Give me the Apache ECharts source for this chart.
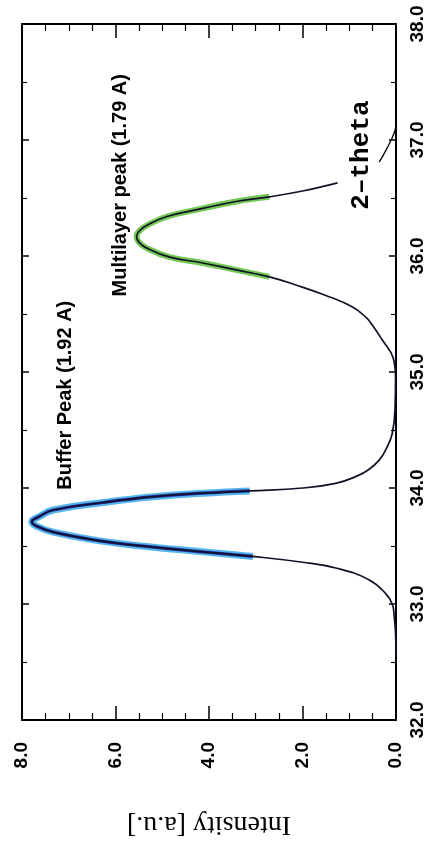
<!DOCTYPE html>
<html>
<head>
<meta charset="utf-8">
<script src="https://cdn.jsdelivr.net/npm/echarts@6/dist/echarts.min.js"></script>
<style>
html,body{margin:0;padding:0;background:#fff;}
#chart{width:427px;height:854px;}
</style>
</head>
<body>
<div id="chart"></div>
<script>
// 2-theta positions (deg) and measured intensity (a.u.)
const theta = [32.55, 32.75, 32.90, 33.00, 33.09, 33.21, 33.31, 33.36, 33.41, 33.45, 33.49, 33.54, 33.62, 33.67, 33.71, 33.75, 33.81, 33.875, 33.925, 33.955, 33.975, 34.00, 34.04, 34.10, 34.16, 34.24, 34.33, 34.47, 34.70, 34.95, 35.12, 35.28, 35.40, 35.47, 35.56, 35.66, 35.75, 35.82, 35.88, 35.94, 35.99, 36.07, 36.12, 36.17, 36.22, 36.27, 36.34, 36.41, 36.47, 36.51, 36.56, 36.63];
const intensity = [0.00, 0.01, 0.04, 0.08, 0.22, 0.58, 1.29, 2.00, 3.06, 4.13, 5.19, 6.26, 7.33, 7.68, 7.79, 7.65, 7.33, 6.26, 5.19, 4.13, 3.13, 2.00, 1.29, 0.85, 0.58, 0.36, 0.22, 0.08, 0.02, 0.01, 0.06, 0.30, 0.50, 0.64, 0.93, 1.50, 2.14, 2.71, 3.42, 4.13, 4.84, 5.34, 5.50, 5.55, 5.48, 5.30, 4.90, 4.13, 3.42, 2.71, 2.00, 1.25];
// highlighted index ranges (inclusive)
const bufferRange = [8, 20];
const multilayerRange = [37, 49];
// axis tick labels
const intensityTicks = ['0.0', '2.0', '4.0', '6.0', '8.0'];
const thetaTicks = ['32.0', '33.0', '34.0', '35.0', '36.0', '37.0', '38.0'];
// annotations: [intensity, theta, text]
const annotations = [
  [7.08, 34.80, 'Buffer Peak (1.92 A)'],
  [5.90, 36.61, 'Multilayer peak (1.79 A)']
];
const thetaLabel = [0.74, 36.87, '2\u2013theta'];
const arrowI = [0.36, 0.19, 0.04, 0.00];
const arrowT = [36.81, 36.93, 37.06, 37.13];

const pts = theta.map((t, i) => [intensity[i], t]);
const seg = r => pts.slice(r[0], r[1] + 1);

const tickFont = {fontFamily: 'Liberation Sans', fontWeight: 'bold', fontSize: 19, color: '#000'};
const axisLine = {show: true, onZero: false, lineStyle: {color: '#000', width: 2}};

function xAx(pos, labels) {
  return {
    type: 'value', position: pos, min: 0, max: 8, interval: 2, inverse: true,
    axisLine: axisLine,
    axisTick: {show: true, inside: true, length: 14, lineStyle: {color: '#000', width: 1.5}},
    minorTick: {show: true, splitNumber: 4, length: 7, lineStyle: {color: '#000', width: 1.2}},
    splitLine: {show: false},
    axisLabel: labels ? Object.assign({show: true, rotate: 90, margin: 22,
      formatter: v => intensityTicks[Math.round(v / 2)]}, tickFont) : {show: false},
    name: labels ? 'Intensity [a.u.]' : '',
    nameLocation: 'middle', nameGap: 90, nameRotate: 180,
    nameTextStyle: {fontFamily: 'Liberation Serif', fontSize: 28, color: '#000'}
  };
}
function yAx(pos, labels) {
  return {
    type: 'value', position: pos, min: 32, max: 38, interval: 1,
    axisLine: axisLine,
    axisTick: {show: true, inside: true, length: 7, lineStyle: {color: '#000', width: 1.5}},
    minorTick: {show: true, splitNumber: 2, length: 5, lineStyle: {color: '#000', width: 1.2}},
    splitLine: {show: false},
    axisLabel: labels ? Object.assign({show: true, rotate: 90, margin: 12,
      formatter: v => thetaTicks[Math.round(v - 32)]}, tickFont) : {show: false}
  };
}

const chart = echarts.init(document.getElementById('chart'), null, {renderer: 'canvas'});
chart.setOption({
  animation: false,
  backgroundColor: '#fff',
  grid: {left: 22, right: 30, top: 24, bottom: 134, containLabel: false},
  xAxis: [xAx('bottom', true), xAx('top', false)],
  yAxis: [yAx('right', true), yAx('left', false)],
  series: [
    {type: 'line', data: seg(bufferRange), showSymbol: false, smooth: 0.45,
     lineStyle: {color: '#45b0e8', width: 7, opacity: 0.9}, z: 2},
    {type: 'line', data: seg(bufferRange), showSymbol: false, smooth: 0.45,
     lineStyle: {color: '#2636a8', width: 3.2}, z: 2},
    {type: 'line', data: seg(multilayerRange), showSymbol: false, smooth: 0.45,
     lineStyle: {color: '#5cbf38', width: 6, opacity: 0.85}, z: 2},
    {type: 'line', data: pts, showSymbol: false, smooth: 0.45,
     lineStyle: {color: '#111128', width: 1.7}, z: 3},
    {type: 'line', data: arrowI.map((v, i) => [v, arrowT[i]]), showSymbol: false, smooth: 0.5,
     lineStyle: {color: '#000', width: 1.3}, z: 3},
    {type: 'scatter', symbolSize: 0, z: 4, itemStyle: {opacity: 1, color: '#000'},
     data: annotations.map(a => ({value: [a[0], a[1]], name: a[2]})),
     label: {show: true, position: 'inside', rotate: 90, formatter: p => p.name,
       textBorderWidth: 0, textBorderColor: 'transparent', opacity: 1,
       fontFamily: 'Liberation Sans', fontWeight: 'bold', fontSize: 20, color: '#000'}},
    {type: 'scatter', symbolSize: 0, z: 4, itemStyle: {opacity: 1, color: '#000'},
     data: [{value: [thetaLabel[0], thetaLabel[1]], name: thetaLabel[2]}],
     label: {show: true, position: 'inside', rotate: 90, formatter: p => p.name,
       textBorderWidth: 0, textBorderColor: 'transparent', opacity: 1,
       fontFamily: 'Liberation Mono', fontWeight: 'bold', fontSize: 26, color: '#000'}}
  ]
});
</script>
</body>
</html>
